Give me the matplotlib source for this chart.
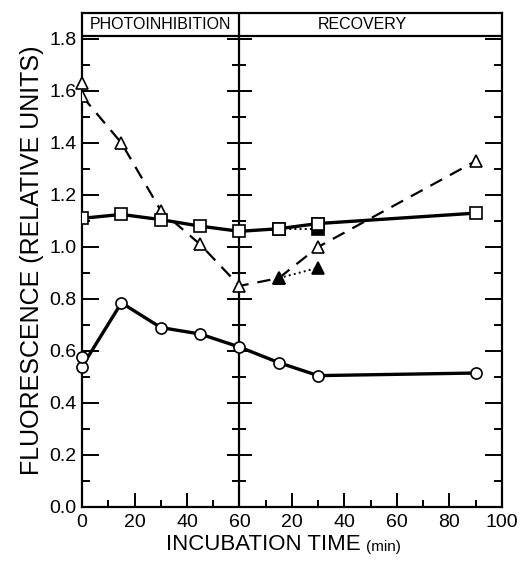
import numpy as np
import matplotlib.pyplot as plt

plt.rcParams['font.family'] = ['Liberation Sans', 'DejaVu Sans']

# time axis: 0-60 photoinhibition, then recovery 0-100 drawn at 60-160
tri_x = [0, 15, 30, 45, 60, 75, 90, 150]
tri_y = [1.58, 1.40, 1.14, 1.01, 0.85, 0.88, 1.00, 1.33]
tri_extra_x = [0]
tri_extra_y = [1.63]
tri_dot_x = [75, 90]
tri_dot_y = [0.88, 0.92]

sq_x = [0, 15, 30, 45, 60, 75, 90, 150]
sq_y = [1.11, 1.125, 1.105, 1.08, 1.06, 1.07, 1.09, 1.13]
sq_dot_x = [75, 90]
sq_dot_y = [1.07, 1.07]

circ_x = [0, 15, 30, 45, 60, 75, 90, 150]
circ_y = [0.54, 0.785, 0.69, 0.665, 0.615, 0.555, 0.505, 0.515]
circ_extra_x = [0]
circ_extra_y = [0.575]

xticks = [0, 20, 40, 60, 80, 100, 120, 140, 160]
xticklabels = ['0', '20', '40', '60', '20', '40', '60', '80', '100']
yticks = [0.0, 0.2, 0.4, 0.6, 0.8, 1.0, 1.2, 1.4, 1.6, 1.8]

fig = plt.figure(figsize=(5.26, 5.62), dpi=100)
ax = fig.add_axes([0.156, 0.098, 0.798, 0.879])
ax.set_xlim(0, 160)
ax.set_ylim(0, 1.9)

for s in ax.spines.values():
    s.set_linewidth(1.6)

# header band
ax.axhline(1.81, color='black', lw=1.6)
ax.axvline(60, color='black', lw=1.6)
ax.text(30, 1.855, 'PHOTOINHIBITION', ha='center', va='center', fontsize=11.5)
ax.text(107, 1.855, 'RECOVERY', ha='center', va='center', fontsize=11.5)

# crossing ticks on the middle line
ax.plot([60] * len(yticks[1:]), yticks[1:], marker='_', ls='none', color='black', ms=18, mew=1.4, clip_on=False)
minor = np.arange(0.1, 1.8, 0.2)
ax.plot([60] * len(minor), minor, marker='_', ls='none', color='black', ms=10, mew=1.4)

mk = dict(markersize=8, markeredgecolor='black', markeredgewidth=1.2, color='black')

# triangles
ax.plot(tri_x, tri_y, ls=(0, (6, 4)), lw=1.6, marker='^', markerfacecolor='white', zorder=3, **mk)
ax.plot(tri_extra_x, tri_extra_y, ls='none', marker='^', markerfacecolor='white', clip_on=False, zorder=4, **mk)
ax.plot(tri_dot_x, tri_dot_y, ls=':', lw=1.4, marker='^', markerfacecolor='black', zorder=4, **mk)

# squares
ax.plot(sq_x, sq_y, ls='-', lw=2.4, marker='s', markerfacecolor='white', zorder=3, **mk)
ax.plot(sq_dot_x, sq_dot_y, ls=':', lw=1.4, marker='s', markerfacecolor='black', zorder=2, **mk)
ax.plot([90], [1.09], ls='none', marker='s', markerfacecolor='white', zorder=5, **mk)

# circles
ax.plot(circ_x, circ_y, ls='-', lw=2.4, marker='o', markerfacecolor='white', clip_on=False, zorder=3, **mk)
ax.plot(circ_extra_x, circ_extra_y, ls='none', marker='o', markerfacecolor='white', clip_on=False, zorder=4, **mk)

ax.set_xticks(xticks)
ax.set_xticklabels(xticklabels)
ax.set_xticks(np.arange(10, 160, 20), minor=True)
ax.set_yticks(yticks)
ax.set_yticklabels(['%.1f' % v for v in yticks])
ax.set_yticks(np.arange(0.1, 1.8, 0.2), minor=True)
ax.tick_params(axis='both', which='both', direction='in', width=1.4, labelsize=14, top=False, right=True)
ax.tick_params(axis='y', which='major', length=12, pad=4)
ax.tick_params(axis='y', which='minor', length=6)
ax.tick_params(axis='x', which='major', length=10, pad=5)
ax.tick_params(axis='x', which='minor', length=5)

ax.set_ylabel('FLUORESCENCE (RELATIVE UNITS)', fontsize=18, labelpad=4)
fig.text(0.685, 0.012, 'INCUBATION TIME', ha='right', va='bottom', fontsize=16)
fig.text(0.695, 0.014, '(min)', ha='left', va='bottom', fontsize=11)

fig.savefig('out.png', dpi=100)
